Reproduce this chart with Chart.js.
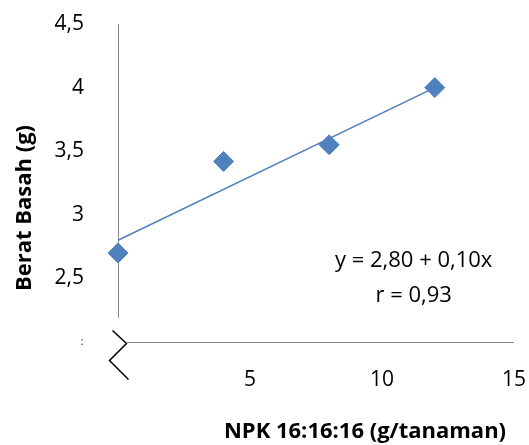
<!DOCTYPE html>
<html>
<head>
<meta charset="utf-8">
<script src="https://cdn.jsdelivr.net/npm/chart.js@4"></script>
<style>
  html, body { margin: 0; padding: 0; background: #ffffff; }
  #wrap { width: 529px; height: 445px; }
</style>
</head>
<body>
<div id="wrap"><canvas id="chart" width="529" height="445"></canvas></div>
<script>
// Dosis NPK (g/tanaman) dan berat basah (g)
const doses = [0, 4, 8, 12]
const weights = [2.7, 3.42, 3.55, 4.0]
const xTicks = [5, 10, 15]
const yTicks = [2.5, 3, 3.5, 4, 4.5]
const intercept = 2.80
const slope = 0.10
const trendRange = [0, 12]
const equationLines = ["y = 2,80 + 0,10x", "r = 0,93"]
const xTitle = "NPK 16:16:16 (g/tanaman)"
const yTitle = "Berat Basah (g)"

const FONT = "'Open Sans', 'Noto Sans', sans-serif"
const BLUE = "#4F81BD"
const AXIS = "#868686"

const comma = (v) => String(v).replace(".", ",")

// Sumbu, tanda patah sumbu, judul dan persamaan digambar manual
// supaya mirip dengan grafik Excel aslinya.
const decorPlugin = {
  id: "decor",
  beforeDatasetsDraw(chart) {
    const { ctx, scales: { x, y } } = chart
    ctx.save()
    ctx.strokeStyle = AXIS
    ctx.lineWidth = 1
    const ax = Math.round(x.getPixelForValue(0)) + 0.5
    ctx.beginPath()
    ctx.moveTo(ax, y.getPixelForValue(4.5))
    ctx.lineTo(ax, y.getPixelForValue(2.19))
    ctx.stroke()
    const by = Math.round(y.getPixelForValue(2.0)) + 0.5
    ctx.beginPath()
    ctx.moveTo(x.getPixelForValue(0.35), by)
    ctx.lineTo(x.getPixelForValue(15), by)
    ctx.stroke()

    // tanda patah sumbu
    ctx.strokeStyle = "#000000"
    ctx.lineWidth = 1.5
    ctx.beginPath()
    ctx.moveTo(ax - 6, by - 12)
    ctx.lineTo(ax + 8, by + 1)
    ctx.lineTo(ax - 9, by + 18)
    ctx.lineTo(ax + 10, by + 37)
    ctx.stroke()
    ctx.restore()
  },
  afterDraw(chart) {
    const { ctx, scales: { x, y } } = chart
    ctx.save()
    ctx.fillStyle = "#000000"
    ctx.textAlign = "center"
    ctx.textBaseline = "middle"

    ctx.font = `22px ${FONT}`
    const ex = x.getPixelForValue(11.2)
    ctx.fillText(equationLines[0], ex, y.getPixelForValue(2.64))
    ctx.fillText(equationLines[1], ex, y.getPixelForValue(2.365))

    ctx.font = `10px ${FONT}`
    ctx.fillText(":", 82, y.getPixelForValue(2.0))

    ctx.font = `bold 22px ${FONT}`
    ctx.fillText(xTitle, 365, 432)

    ctx.translate(25, 208)
    ctx.rotate(-Math.PI / 2)
    ctx.fillText(yTitle, 0, 0)
    ctx.restore()
  }
}

new Chart(document.getElementById("chart"), {
  type: "scatter",
  data: {
    datasets: [
      {
        label: "Trend",
        type: "line",
        data: trendRange.map((d) => ({ x: d, y: intercept + slope * d })),
        borderColor: BLUE,
        borderWidth: 1.5,
        pointRadius: 0,
        fill: false,
        clip: false
      },
      {
        label: "Berat basah",
        data: doses.map((d, i) => ({ x: d, y: weights[i] })),
        pointStyle: "rectRot",
        pointRadius: 10,
        pointHoverRadius: 10,
        backgroundColor: BLUE,
        borderColor: BLUE,
        borderWidth: 1,
        clip: false
      }
    ]
  },
  options: {
    responsive: false,
    animation: false,
    layout: { padding: { left: 0, right: 15, top: 24, bottom: 0 } },
    plugins: { legend: { display: false }, tooltip: { enabled: false } },
    scales: {
      x: {
        type: "linear",
        min: 0,
        max: 15,
        grid: { display: false },
        border: { display: false },
        afterBuildTicks: (s) => { s.ticks = xTicks.map((v) => ({ value: v })) },
        afterFit: (s) => { s.height = 103; s.paddingLeft = 0; s.paddingRight = 0 },
        ticks: {
          padding: 17,
          color: "#000000",
          font: { family: FONT, size: 21 },
          maxRotation: 0,
          callback: (v) => comma(v)
        }
      },
      y: {
        type: "linear",
        min: 2.0,
        max: 4.5,
        grid: { display: false },
        border: { display: false },
        afterBuildTicks: (s) => { s.ticks = yTicks.map((v) => ({ value: v })) },
        afterFit: (s) => { s.width = 118; s.paddingTop = 0; s.paddingBottom = 0 },
        ticks: {
          padding: 26,
          color: "#000000",
          font: { family: FONT, size: 21 },
          callback: (v) => comma(v)
        }
      }
    }
  },
  plugins: [decorPlugin]
})
</script>
</body>
</html>
